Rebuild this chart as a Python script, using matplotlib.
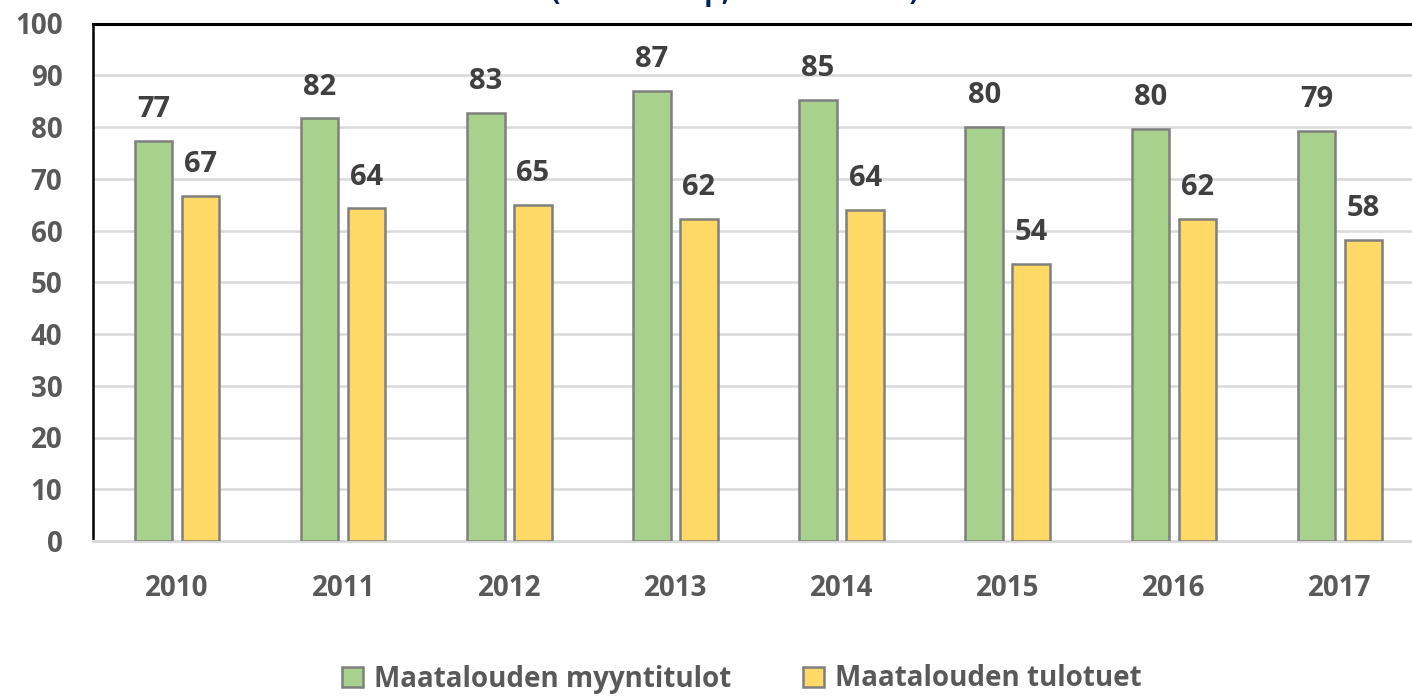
import matplotlib
matplotlib.use("Agg")
import matplotlib.pyplot as plt
import numpy as np

years = ["2010", "2011", "2012", "2013", "2014", "2015", "2016", "2017"]
myyntitulot = [77.3, 81.7, 82.7, 87.0, 85.2, 80.0, 79.6, 79.2]
tulotuet = [66.7, 64.3, 64.9, 62.2, 64.0, 53.6, 62.2, 58.2]
series_names = ["Maatalouden myyntitulot", "Maatalouden tulotuet"]
title_text = "(1000 €/tilap, keskimäärin)"

plt.rcParams['font.family'] = ['Open Sans', 'DejaVu Sans']

fig = plt.figure(figsize=(14.12, 6.96), dpi=100)
ax = fig.add_axes([93/1412, 1-541/696, 1329/1412, (541-23.5)/696])

x = np.arange(len(years))
w = 0.226
off = 0.1415
green = "#a9d18e"
yellow = "#ffd966"
edge = "#7f7f7f"

b1 = ax.bar(x - off, myyntitulot, w, color=green, edgecolor=edge, linewidth=1.8,
            label=series_names[0], zorder=3)
b2 = ax.bar(x + off, tulotuet, w, color=yellow, edgecolor=edge, linewidth=1.8,
            label=series_names[1], zorder=3)

for bars, vals in ((b1, myyntitulot), (b2, tulotuet)):
    for rect, v in zip(bars, vals):
        ax.annotate(f"{round(v)}", (rect.get_x() + rect.get_width()/2, v),
                    xytext=(0, 12), textcoords="offset points",
                    ha="center", va="bottom", fontsize=21, fontweight="bold",
                    color="#404040")

ax.set_xlim(-0.506, 7.494)
ax.set_ylim(0, 100)
ax.set_yticks(range(0, 101, 10))
ax.set_xticks(x)
ax.set_xticklabels(years)
ax.yaxis.grid(True, color="#d9d9d9", linewidth=1.8, zorder=0)
ax.set_axisbelow(True)

for lab in ax.get_yticklabels() + ax.get_xticklabels():
    lab.set_fontsize(20)
    lab.set_fontweight("bold")
    lab.set_color("#595959")

ax.tick_params(axis="both", length=0)
ax.tick_params(axis="y", pad=22)
ax.tick_params(axis="x", pad=24)

ax.spines["left"].set_color("black")
ax.spines["left"].set_linewidth(1.8)
ax.spines["top"].set_color("black")
ax.spines["top"].set_linewidth(2.2)
ax.spines["right"].set_visible(False)
ax.spines["bottom"].set_color("#d9d9d9")
ax.spines["bottom"].set_linewidth(2.2)

leg = fig.legend(handles=[b1, b2], labels=series_names, loc="center",
                 bbox_to_anchor=(742/1412, 1-679/696), ncol=2, frameon=False,
                 fontsize=20, handlelength=0.75, handleheight=0.75,
                 handletextpad=0.4, columnspacing=2.6)
for t in leg.get_texts():
    t.set_fontweight("bold")
    t.set_color("#595959")

fig.text(735/1412, 1.0, title_text, ha="center", va="baseline",
         fontsize=20, fontweight="bold", color="#002060")

fig.savefig("out.png", dpi=100)
